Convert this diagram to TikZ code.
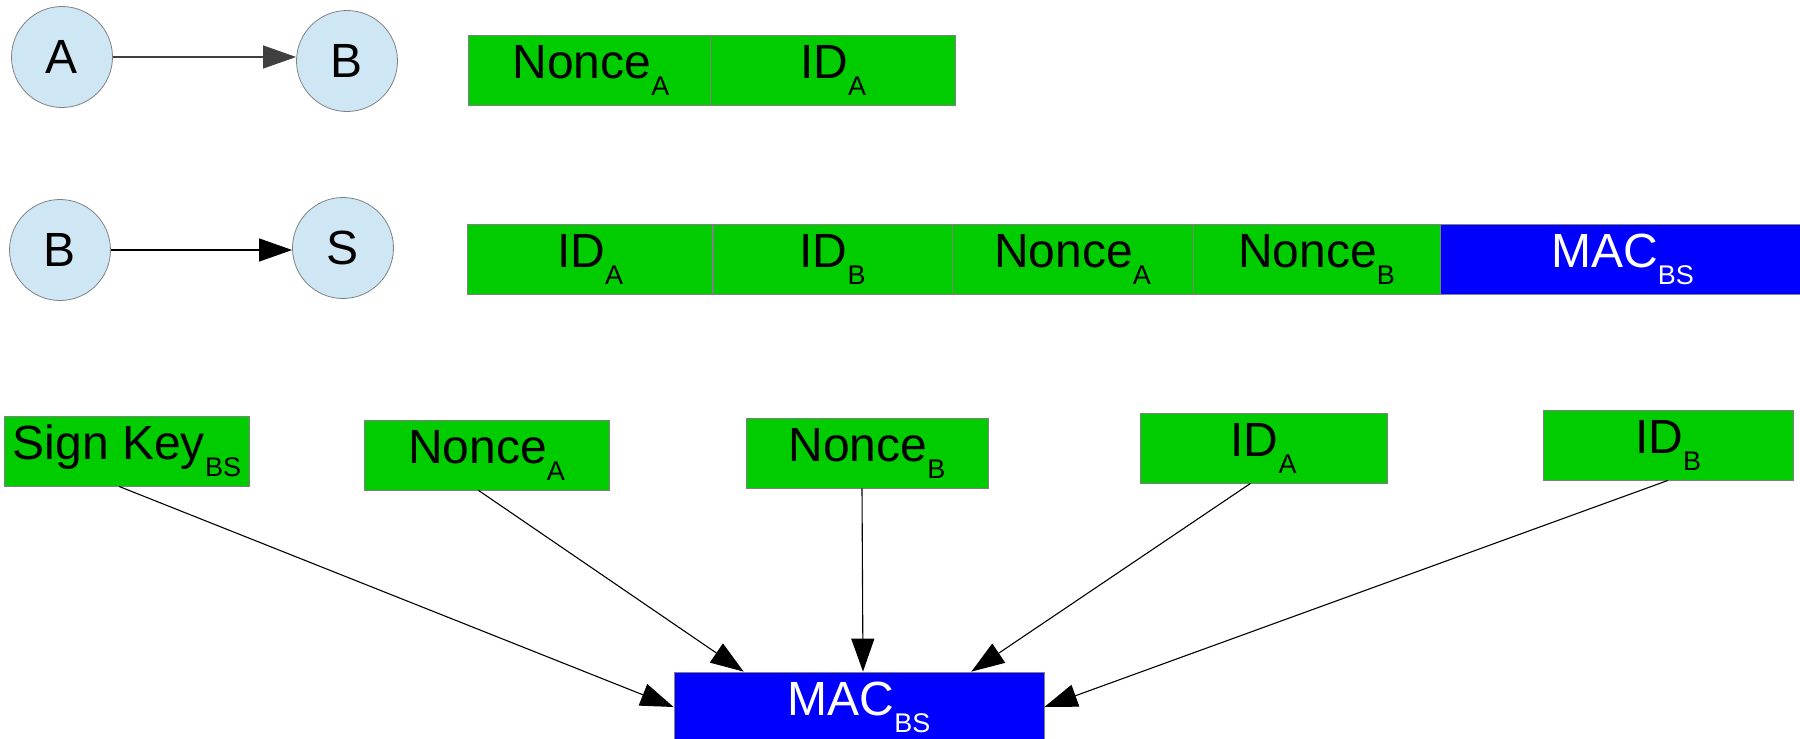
\documentclass[tikz,border=0pt]{standalone}
\usepackage{fontspec}
\setmainfont{Liberation Sans}
\usetikzlibrary{arrows.meta}

\definecolor{fieldgreen}{HTML}{00CC00}
\definecolor{macblue}{HTML}{0000FF}
\definecolor{partyblue}{HTML}{CFE7F5}
\definecolor{edgegray}{HTML}{808080}

\newcommand{\lsub}[1]{\raisebox{-17pt}{\fontsize{27}{27}\selectfont #1}}

\begin{document}
\begin{tikzpicture}[x=1pt, y=-1pt,
    every node/.style={font=\fontsize{48}{50}\selectfont},
    party/.style={circle, draw=edgegray, line width=0.8pt, fill=partyblue, minimum size=101pt, inner sep=0pt},
    field/.style={draw=edgegray, line width=0.8pt, fill=fieldgreen, minimum width=245pt, minimum height=70pt, inner sep=0pt},
    macfield/.style={field, fill=macblue, text=white},
    msg/.style={line width=1.1pt, -{Triangle[length=33pt, width=23pt]}}]
  \useasboundingbox (0,0) rectangle (1800,739);

  % A -> B
  \node[party] (a1) at (62,57) {A};
  \node[party] (b1) at (347,61) {B};
  \draw[msg, black!75] (a1) -- (a1 -| b1.west);
  \node[field] (nonceA1) at (591,70) {Nonce\lsub{A}};
  \node[field] (idA1) at (833,70) {ID\lsub{A}};

  % B -> S
  \node[party] (b2) at (60,250) {B};
  \node[party] (s2) at (343,248) {S};
  \draw[msg] (b2) -- (b2 -| s2.west);
  \node[field] (idA2) at (590,259) {ID\lsub{A}};
  \node[field, minimum width=239pt] (idB2) at (832.5,259) {ID\lsub{B}};
  \node[field, minimum width=241pt] (nonceA2) at (1072.5,259) {Nonce\lsub{A}};
  \node[field, minimum width=247pt] (nonceB2) at (1316.5,259) {Nonce\lsub{B}};
  \node[macfield, minimum width=365pt] (mac2) at (1622.5,259) {MAC\lsub{BS}};

  % inputs of the MAC
  \node[field] (skey) at (127,451) {Sign Key\lsub{BS}};
  \node[field] (nonceA3) at (486.5,455) {Nonce\lsub{A}};
  \node[field, minimum width=242pt] (nonceB3) at (867,453) {Nonce\lsub{B}};
  \node[field, minimum width=247pt] (idA3) at (1263.5,448) {ID\lsub{A}};
  \node[field, minimum width=250pt] (idB3) at (1668,445) {ID\lsub{B}};
  \node[macfield, minimum width=370pt] (mac3) at (859,707) {MAC\lsub{BS}};

  \draw[msg] ([xshift=-8pt]skey.south) -- (mac3.west);
  \draw[msg] ([xshift=-8pt]nonceA3.south) -- ([xshift=70pt]mac3.north west);
  \draw[msg] ([xshift=-5pt]nonceB3.south) -- ([xshift=4pt]mac3.north);
  \draw[msg] ([xshift=-13pt]idA3.south) -- ([xshift=-73pt]mac3.north east);
  \draw[msg] (idB3.south) -- (mac3.east);
\end{tikzpicture}
\end{document}
